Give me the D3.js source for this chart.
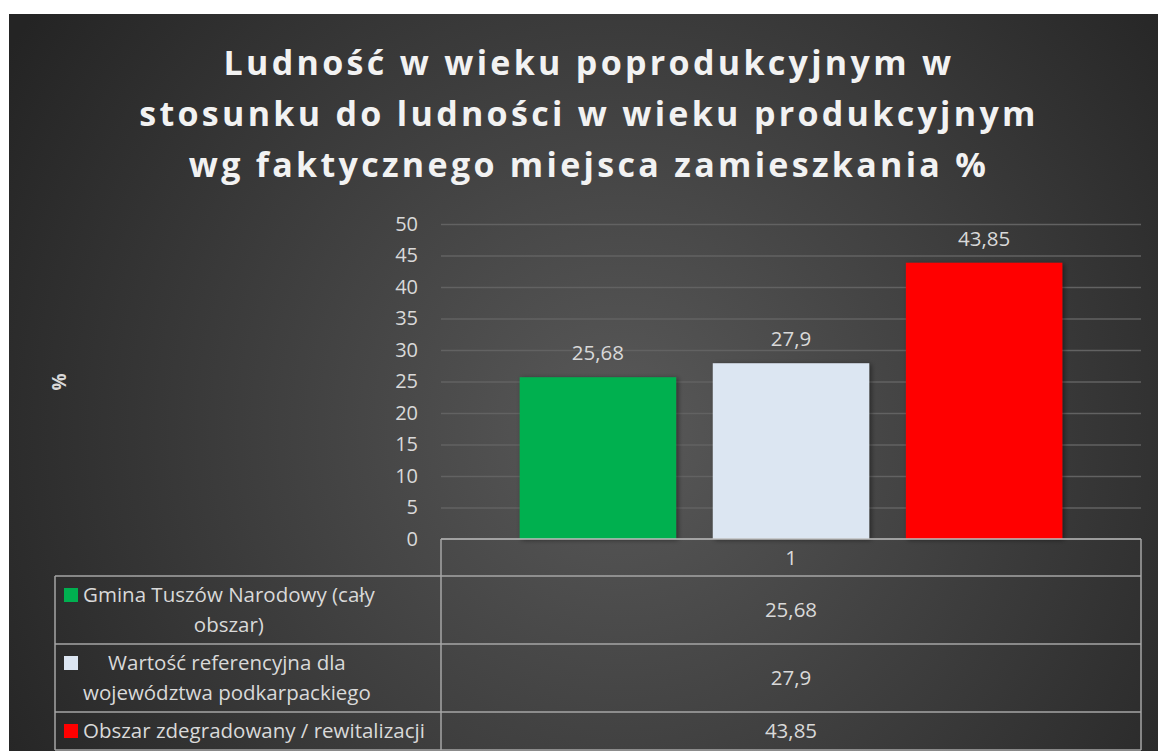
<!DOCTYPE html>
<html>
<head>
<meta charset="utf-8">
<script src="https://cdn.jsdelivr.net/npm/d3@7"></script>
<style>
  body { margin: 0; background: #fff; }
  svg { display: block; }
</style>
</head>
<body>
<div id="chart"><svg></svg></div>
<script>
// data
const categories = ["1"];
const seriesNames = [
  "Gmina Tuszów Narodowy (cały obszar)",
  "Wartość referencyjna dla województwa podkarpackiego",
  "Obszar zdegradowany / rewitalizacji"
];
const seriesLabelLines = [
  ["Gmina Tuszów Narodowy (cały", "obszar)"],
  ["Wartość referencyjna dla", "województwa podkarpackiego"],
  ["Obszar zdegradowany / rewitalizacji"]
];
const seriesValues = [25.68, 27.9, 43.85];
const yTicks = [0, 5, 10, 15, 20, 25, 30, 35, 40, 45, 50];
const titleLines = [
  "Ludność w wieku poprodukcyjnym w",
  "stosunku do ludności w wieku produkcyjnym",
  "wg faktycznego miejsca zamieszkania %"
];
const yTitle = "%";

const colors = ["#00b050", "#dce6f2", "#ff0000"];

const W = 1158, H = 751;
const plot = { left: 441, right: 1141, top: 224, bottom: 539 };
const legendLeft = 55;
const font = "'Open Sans', sans-serif";
const fontSize = "20.5px";
const textCol = "#d9d9d9";
const lineCol = "#a6a6a6";

const fmt = d3.formatLocale({ decimal: ",", thousands: " ", grouping: [3], currency: ["", ""] }).format("");

const svg = d3.select("#chart svg").attr("width", W).attr("height", H);

const defs = svg.append("defs");
const grad = defs.append("radialGradient")
  .attr("id", "bg")
  .attr("gradientUnits", "userSpaceOnUse")
  .attr("cx", 620).attr("cy", 430).attr("r", 720);
grad.append("stop").attr("offset", "0%").attr("stop-color", "#595959");
grad.append("stop").attr("offset", "100%").attr("stop-color", "#242424");

const shadow = defs.append("filter").attr("id", "shadow")
  .attr("x", "-10%").attr("y", "-10%").attr("width", "130%").attr("height", "130%");
shadow.append("feDropShadow")
  .attr("dx", 2).attr("dy", 1).attr("stdDeviation", 2.5)
  .attr("flood-color", "#000").attr("flood-opacity", 0.45);

svg.append("rect")
  .attr("x", 9).attr("y", 14)
  .attr("width", W - 9).attr("height", H - 14)
  .attr("fill", "url(#bg)");

// title
svg.append("g")
  .selectAll("text")
  .data(titleLines)
  .join("text")
  .attr("x", 589)
  .attr("y", (d, i) => 75 + i * 51)
  .attr("text-anchor", "middle")
  .attr("fill", "#f2f2f2")
  .style("font-family", "'Open Sans', sans-serif")
  .style("font-weight", "bold")
  .style("font-size", "34px")
  .style("letter-spacing", "3.3px")
  .text((d) => d);

// scales
const y = d3.scaleLinear().domain([0, 50]).range([plot.bottom, plot.top]);
const x0 = d3.scaleBand().domain(categories).range([plot.left, plot.right]).paddingInner(0).paddingOuter(0.145);
const x1 = d3.scaleBand().domain(seriesNames).range([0, x0.bandwidth()]).paddingInner(0.19).paddingOuter(0);

// gridlines
const grid = svg.append("g")
  .attr("transform", `translate(${plot.left},0)`)
  .call(d3.axisLeft(y).tickValues(yTicks.slice(1)).tickSize(-(plot.right - plot.left)).tickFormat(""));
grid.select(".domain").remove();
grid.selectAll("line").attr("stroke", "#626262").attr("stroke-width", 1.3);

// y axis labels
const yAxis = svg.append("g")
  .attr("transform", `translate(${plot.left},0)`)
  .call(d3.axisLeft(y).tickValues(yTicks).tickSize(0).tickPadding(23));
yAxis.select(".domain").remove();
yAxis.selectAll("text")
  .attr("fill", textCol)
  .style("font-family", font)
  .style("font-size", "20px");

svg.append("text")
  .attr("transform", `translate(66,382) rotate(-90)`)
  .attr("text-anchor", "middle")
  .attr("fill", textCol)
  .style("font-family", font)
  .style("font-size", "19px")
  .style("font-weight", "bold")
  .text(yTitle);

// bars
const bars = svg.append("g")
  .selectAll("g")
  .data(categories)
  .join("g")
  .attr("transform", (d) => `translate(${x0(d)},0)`);

bars.selectAll("rect")
  .data(seriesNames.map((n, i) => ({ name: n, value: seriesValues[i], color: colors[i] })))
  .join("rect")
  .attr("x", (d) => x1(d.name))
  .attr("y", (d) => y(d.value))
  .attr("width", x1.bandwidth())
  .attr("height", (d) => y(0) - y(d.value))
  .attr("fill", (d) => d.color)
  .attr("filter", "url(#shadow)");

bars.selectAll("text")
  .data(seriesNames.map((n, i) => ({ name: n, value: seriesValues[i] })))
  .join("text")
  .attr("x", (d) => x1(d.name) + x1.bandwidth() / 2)
  .attr("y", (d) => y(d.value) - 17)
  .attr("text-anchor", "middle")
  .attr("fill", textCol)
  .style("font-family", font)
  .style("font-size", fontSize)
  .text((d) => fmt(d.value));

// data table
const headerH = 37, lineH = 30, rowPad = 8;
const rows = seriesNames.map((n, i) => ({
  name: n,
  lines: seriesLabelLines[i],
  value: seriesValues[i],
  color: colors[i],
  h: seriesLabelLines[i].length * lineH + rowPad
}));
let rowTop = plot.bottom + headerH;
rows.forEach((r) => { r.top = rowTop; rowTop += r.h; });
const tableBottom = rowTop;

const table = svg.append("g");

// header
categories.forEach((c) => {
  table.append("text")
    .attr("x", x0(c) + x0.bandwidth() / 2)
    .attr("y", plot.bottom + headerH / 2 + 7)
    .attr("text-anchor", "middle")
    .attr("fill", textCol)
    .style("font-family", font)
    .style("font-size", fontSize)
    .text(c);
});

const row = table.selectAll("g.row")
  .data(rows)
  .join("g")
  .attr("class", "row");

row.append("rect")
  .attr("x", 64)
  .attr("y", (d) => d.top + rowPad / 2 + lineH / 2 - 7)
  .attr("width", 14)
  .attr("height", 14)
  .attr("fill", (d) => d.color);

row.each(function (d) {
  const g = d3.select(this);
  const t = g.selectAll("text.lab")
    .data(d.lines)
    .join("text")
    .attr("class", "lab")
    .attr("y", (l, i) => d.top + rowPad / 2 + lineH * i + lineH / 2 + 7)
    .attr("text-anchor", "middle")
    .attr("fill", textCol)
    .style("font-family", font)
    .style("font-size", fontSize)
    .text((l) => l);
  let maxW = 0;
  t.each(function () { maxW = Math.max(maxW, this.getComputedTextLength()); });
  t.attr("x", 83 + maxW / 2);
});

row.append("text")
  .attr("x", x0(categories[0]) + x0.bandwidth() / 2)
  .attr("y", (d) => d.top + d.h / 2 + 7)
  .attr("text-anchor", "middle")
  .attr("fill", textCol)
  .style("font-family", font)
  .style("font-size", fontSize)
  .text((d) => fmt(d.value));

// table lines
const hLines = [{ x1: plot.left, y: plot.bottom }]
  .concat([plot.bottom + headerH].concat(rows.map((r) => r.top + r.h)).map((v) => ({ x1: legendLeft, y: v })));
table.selectAll("line.h")
  .data(hLines)
  .join("line")
  .attr("class", "h")
  .attr("x1", (d) => d.x1)
  .attr("x2", plot.right)
  .attr("y1", (d) => d.y)
  .attr("y2", (d) => d.y)
  .attr("stroke", (d, i) => (i === 0 ? "#bfbfbf" : lineCol))
  .attr("stroke-width", 1.5);

const vLines = [
  { x: legendLeft, y1: plot.bottom + headerH },
  { x: plot.left, y1: plot.bottom },
  { x: plot.right, y1: plot.bottom }
];
table.selectAll("line.v")
  .data(vLines)
  .join("line")
  .attr("class", "v")
  .attr("x1", (d) => d.x)
  .attr("x2", (d) => d.x)
  .attr("y1", (d) => d.y1)
  .attr("y2", tableBottom)
  .attr("stroke", lineCol)
  .attr("stroke-width", 1.5);
</script>
</body>
</html>
